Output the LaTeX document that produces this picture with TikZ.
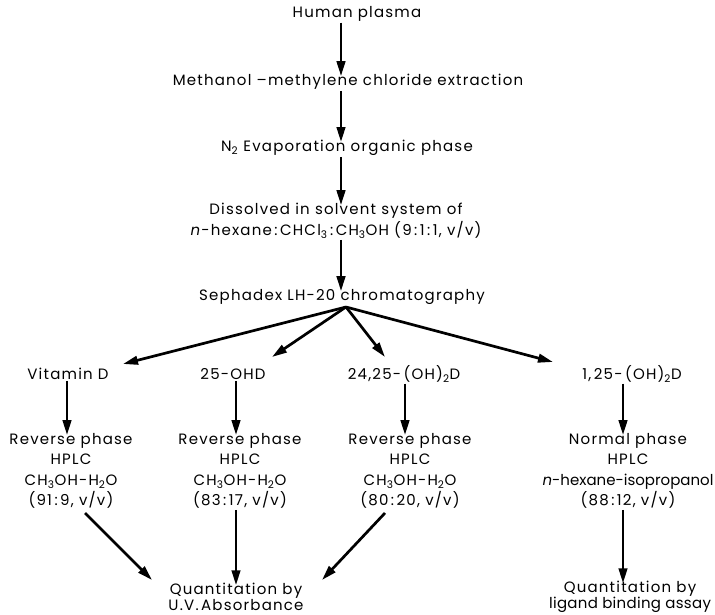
\documentclass[tikz,border=0pt]{standalone}
\usepackage{fontspec}
\setmainfont{Poppins}[LetterSpace=8]
\usetikzlibrary{arrows.meta}

\tikzset{
  stage/.style={align=center, inner sep=1pt, font=\fontsize{15}{15.5}\selectfont},
  column/.style={stage, font=\fontsize{15}{20.5}\selectfont},
  flow/.style={line width=2.7pt, -{Triangle[length=15pt,width=8.5pt]}},
}

\begin{document}
\begin{tikzpicture}[x=1pt,y=-1pt]
\useasboundingbox (0,0) rectangle (715,615);

\coordinate (spine) at (341,0);
\node (plasma) [stage] at (357,14) {Human plasma};
\node (extract) [stage] at (348,82) {Methanol --methylene chloride extraction};
\node (evap) [stage] at (347,148) {N\textsubscript{2} Evaporation organic phase};
\node (dissolve) [stage, font=\fontsize{15}{21}\selectfont] at (336,221) {Dissolved in solvent system of\\
  \textit{n}-hexane\,:\,CHCl\textsubscript{3}\,:\,CH\textsubscript{3}OH (9\,:\,1\,:\,1, v/v)};
\node (sepha) [stage] at (342,297) {Sephadex LH-20 chromatography};

\draw [flow] (plasma.south -| spine) -- ([yshift=-3pt]extract.north -| spine);
\draw [flow] (extract.south -| spine) -- ([yshift=-3pt]evap.north -| spine);
\draw [flow] (evap.south -| spine) -- ([yshift=-3pt]dissolve.north -| spine);
\draw [flow] (dissolve.south -| spine) -- ([yshift=-3pt]sepha.north -| spine);

% fractions
\node (vitd) [stage] at (68,374) {Vitamin D};
\node (ohd) [stage] at (233,374) {25-OHD};
\node (ohtwo) [stage] at (404,374) {24,25-\,(OH)\textsubscript{2}D};
\node (onetwo) [stage] at (632,374) {1,\,25-\,(OH)\textsubscript{2}D};

\coordinate (fan) at (346,307);
\coordinate (tvitd) at (123,364);
\coordinate (tohd) at (272,357);
\coordinate (tohtwo) at (385,357);
\coordinate (tonetwo) at (553,362);
\draw [flow] (fan) -- (tvitd);
\draw [flow] (fan) -- (tohd);
\draw [flow] (fan) -- (tohtwo);
\draw [flow] (fan) -- (tonetwo);

% HPLC steps
\node (rp1) [column] at (71,471) {Reverse phase\\HPLC\\CH\textsubscript{3}OH-H\textsubscript{2}O\\(91\,:\,9, v/v)};
\node (rp2) [column] at (240,471) {Reverse phase\\HPLC\\CH\textsubscript{3}OH-H\textsubscript{2}O\\(83\,:\,17, v/v)};
\node (rp3) [column] at (410,471) {Reverse phase\\HPLC\\CH\textsubscript{3}OH-H\textsubscript{2}O\\(80\,:\,20, v/v)};
\node (np4) [column] at (628,471) {Normal phase\\HPLC\\{\addfontfeature{LetterSpace=0}\textit{n}-hexane-isopropanol}\\(88\,:\,12, v/v)};

\draw [flow] (vitd.south -| 67,0) -- ([yshift=-3pt]rp1.north -| 67,0);
\draw [flow] (ohd.south -| 236,0) -- ([yshift=-3pt]rp2.north -| 236,0);
\draw [flow] (ohtwo.south -| 405,0) -- ([yshift=-3pt]rp3.north -| 405,0);
\draw [flow] (onetwo.south -| 623,0) -- ([yshift=-3pt]np4.north -| 623,0);

% quantitation
\node (uv) [stage] at (236,597) {Quantitation by\\U.V.\,Absorbance};
\node (lba) [stage] at (630,597) {Quantitation by\\{\addfontfeature{LetterSpace=2}ligand binding assay}};

\coordinate (s1) at (85,513);
\coordinate (s3) at (385,513);
\draw [flow] (s1) -- (152,580);
\draw [flow] (rp2.south -| 236,0) -- ([yshift=-3pt]uv.north -| 236,0);
\draw [flow] (s3) -- (322,580);
\draw [flow] (np4.south -| 623,0) -- ([yshift=-3pt]lba.north -| 623,0);
\end{tikzpicture}
\end{document}
